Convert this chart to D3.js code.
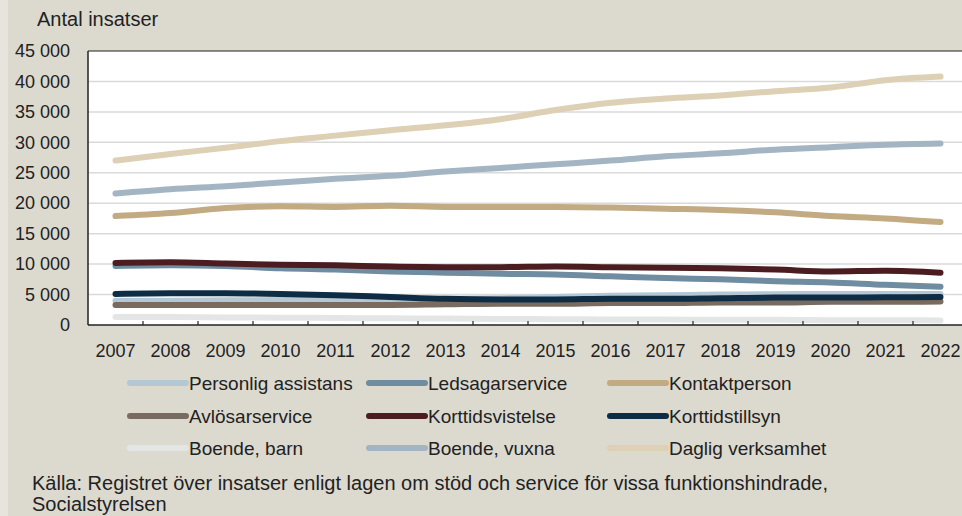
<!DOCTYPE html>
<html lang="sv">
<head>
<meta charset="utf-8">
<title>Antal insatser</title>
<script src="https://cdn.jsdelivr.net/npm/d3@7"></script>
<style>
  html, body { margin: 0; padding: 0; background: #dcd9cf; }
  svg { display: block; font-family: "Liberation Sans", Arial, sans-serif; }
</style>
</head>
<body>
<script>
var years = [2007, 2008, 2009, 2010, 2011, 2012, 2013, 2014, 2015, 2016, 2017, 2018, 2019, 2020, 2021, 2022];

// values
var personligAssistans = [4000, 4000, 4050, 4100, 4150, 4200, 4300, 4400, 4600, 4800, 4900, 5000, 5050, 5100, 5100, 5100];
var ledsagarservice    = [9700, 9800, 9700, 9300, 9100, 8800, 8600, 8400, 8300, 8000, 7700, 7500, 7200, 7000, 6600, 6300];
var kontaktperson      = [17900, 18400, 19200, 19500, 19400, 19600, 19400, 19400, 19400, 19300, 19100, 18900, 18500, 17900, 17500, 16900];
var avlosarservice     = [3300, 3300, 3300, 3300, 3300, 3300, 3400, 3500, 3500, 3600, 3600, 3700, 3700, 3800, 3800, 3850];
var korttidsvistelse   = [10200, 10300, 10100, 9900, 9800, 9600, 9500, 9500, 9600, 9500, 9400, 9300, 9100, 8800, 8900, 8600];
var korttidstillsyn    = [5100, 5200, 5200, 5100, 4900, 4600, 4300, 4200, 4200, 4300, 4300, 4400, 4500, 4500, 4550, 4600];
var boendeBarn         = [1300, 1300, 1250, 1200, 1150, 1100, 1050, 1000, 950, 900, 900, 850, 850, 800, 800, 750];
var boendeVuxna        = [21600, 22300, 22800, 23400, 24000, 24500, 25200, 25800, 26400, 27000, 27700, 28200, 28800, 29200, 29600, 29800];
var dagligVerksamhet   = [27000, 28100, 29100, 30200, 31100, 32000, 32800, 33800, 35300, 36500, 37200, 37700, 38400, 39000, 40200, 40800];

var seriesNames = ["Personlig assistans", "Ledsagarservice", "Kontaktperson",
                   "Avlösarservice", "Korttidsvistelse", "Korttidstillsyn",
                   "Boende, barn", "Boende, vuxna", "Daglig verksamhet"];
var seriesValues = [personligAssistans, ledsagarservice, kontaktperson,
                    avlosarservice, korttidsvistelse, korttidstillsyn,
                    boendeBarn, boendeVuxna, dagligVerksamhet];
var colors = ["#b3c7d4", "#6f8ca0", "#c2ab83",
              "#7a6b60", "#4b1d20", "#0e2c44",
              "#e4e6e6", "#a3b4c2", "#ddd0b4"];
var yTicks = [0, 5000, 10000, 15000, 20000, 25000, 30000, 35000, 40000, 45000];

var width = 962, height = 516;
var plotLeft = 88, plotTop = 51, plotBottom = 325, plotRight = 968;

var svg = d3.select("body").append("svg")
    .attr("width", width)
    .attr("height", height);

svg.append("rect").attr("x", 0).attr("y", 0).attr("width", 8).attr("height", height).attr("fill", "#e6e4dc");

var x = d3.scaleBand().domain(years).range([plotLeft, plotRight]).paddingInner(0).paddingOuter(0);
var y = d3.scaleLinear().domain([0, 45000]).range([plotBottom, plotTop]);

// plot area
svg.append("rect")
    .attr("x", plotLeft).attr("y", plotTop)
    .attr("width", plotRight - plotLeft).attr("height", plotBottom - plotTop)
    .attr("fill", "#ffffff");

svg.append("g").selectAll("line")
    .data(yTicks.slice(1, -1))
    .enter().append("line")
    .attr("x1", plotLeft).attr("x2", plotRight)
    .attr("y1", function(d) { return y(d); })
    .attr("y2", function(d) { return y(d); })
    .attr("stroke", "#dadada")
    .attr("stroke-width", 1.5);

// title
svg.append("text")
    .attr("x", 37).attr("y", 26)
    .attr("font-size", 20)
    .attr("fill", "#222")
    .text("Antal insatser");

// y axis
var fmt = function(d) { return d3.format(",")(d).replace(",", " "); };
var yAxis = svg.append("g")
    .attr("transform", "translate(" + plotLeft + ",0)")
    .call(d3.axisLeft(y).tickValues(yTicks).tickFormat(fmt).tickSize(0).tickPadding(18));
yAxis.select(".domain").remove();
yAxis.selectAll("text").attr("font-size", 18).attr("fill", "#222").style("font-family", "inherit");

// x axis labels
var xAxis = svg.append("g")
    .attr("transform", "translate(0," + plotBottom + ")")
    .call(d3.axisBottom(x).tickSize(0).tickPadding(19));
xAxis.select(".domain").remove();
xAxis.selectAll("text").attr("font-size", 18).attr("fill", "#222").style("font-family", "inherit");

// lines
var line = d3.line()
    .x(function(d, i) { return x(years[i]) + x.bandwidth() / 2; })
    .y(function(d) { return y(d); })
    .curve(d3.curveMonotoneX);

svg.append("g").selectAll("path")
    .data(seriesValues)
    .enter().append("path")
    .attr("d", line)
    .attr("fill", "none")
    .attr("stroke", function(d, i) { return colors[i]; })
    .attr("stroke-width", 6)
    .attr("stroke-linecap", "round");

// frame
svg.append("line").attr("x1", plotLeft).attr("x2", width).attr("y1", plotTop).attr("y2", plotTop)
    .attr("stroke", "#222").attr("stroke-width", 1.2);
svg.append("line").attr("x1", plotLeft).attr("x2", plotLeft).attr("y1", plotTop).attr("y2", plotBottom)
    .attr("stroke", "#222").attr("stroke-width", 1.5);
svg.append("line").attr("x1", plotLeft).attr("x2", width).attr("y1", plotBottom).attr("y2", plotBottom)
    .attr("stroke", "#222").attr("stroke-width", 1.5);

// ticks between categories
svg.append("g").selectAll("line")
    .data(years.slice(1))
    .enter().append("line")
    .attr("x1", function(d) { return x(d); })
    .attr("x2", function(d) { return x(d); })
    .attr("y1", plotBottom).attr("y2", plotBottom - 4)
    .attr("stroke", "#222").attr("stroke-width", 1.2);

// legend
var legendCols = [130, 369, 610];
var legendRows = [383, 416, 448];
var legend = svg.append("g").selectAll("g")
    .data(seriesNames)
    .enter().append("g")
    .attr("transform", function(d, i) {
        return "translate(" + legendCols[i % 3] + "," + legendRows[Math.floor(i / 3)] + ")";
    });
legend.append("line")
    .attr("x1", 0).attr("x2", 56)
    .attr("y1", 0).attr("y2", 0)
    .attr("stroke", function(d, i) { return colors[i]; })
    .attr("stroke-width", 6)
    .attr("stroke-linecap", "round");
legend.append("text")
    .attr("x", 59).attr("dy", "0.35em")
    .attr("font-size", 19)
    .attr("fill", "#222")
    .text(function(d) { return d; });

// source
svg.append("text")
    .attr("x", 32).attr("y", 490)
    .attr("font-size", 20).attr("fill", "#222")
    .text("Källa: Registret över insatser enligt lagen om stöd och service för vissa funktionshindrade,");
svg.append("text")
    .attr("x", 32).attr("y", 511)
    .attr("font-size", 20).attr("fill", "#222")
    .text("Socialstyrelsen");
</script>
</body>
</html>
